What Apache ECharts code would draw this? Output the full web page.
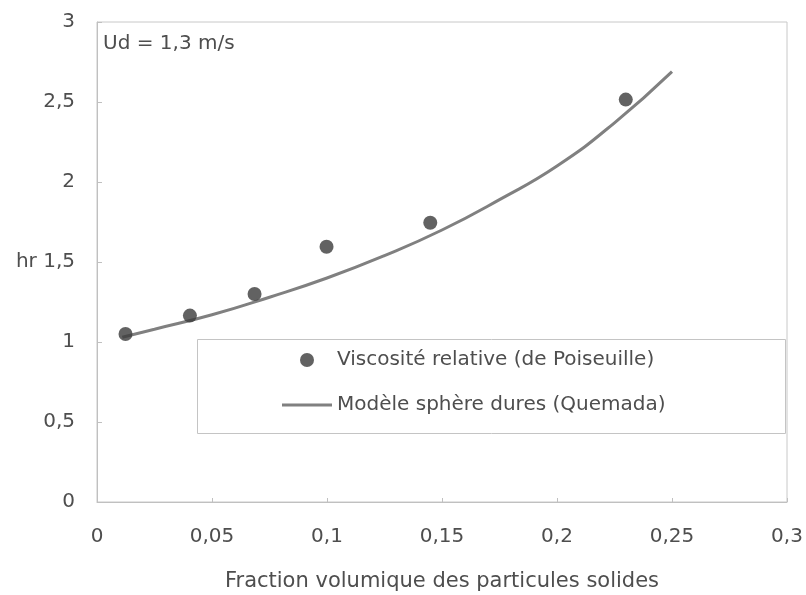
<!DOCTYPE html>
<html><head><meta charset="utf-8">
<script src="https://cdn.jsdelivr.net/npm/echarts@6/dist/echarts.min.js"></script>
<style>html,body{margin:0;padding:0;background:#fff}#c{width:806px;height:595px}</style>
</head><body><div id="c"></div>
<script>
// Measured relative viscosity (Poiseuille)
const measX = [0.0124, 0.0404, 0.0685, 0.0998, 0.1449, 0.2299];
const measY = [1.05, 1.165, 1.30, 1.595, 1.745, 2.515];
// Hard-sphere model (Quemada) curve
const modelX = [0.011, 0.025, 0.05, 0.075, 0.1, 0.125, 0.15, 0.175, 0.2, 0.225, 0.25];
const modelY = [1.03, 1.08, 1.17, 1.28, 1.40, 1.54, 1.70, 1.89, 2.10, 2.37, 2.69];
const seriesNames = ['Viscosité relative (de Poiseuille)', 'Modèle sphère dures (Quemada)'];
const xAxisTitle = 'Fraction volumique des particules solides';
const annotation = 'Ud = 1,3 m/s';

const chart = echarts.init(document.getElementById('c'), null, {renderer: 'canvas'});
const FONT = 'DejaVu Sans';
const TXT = '#4e4e4e';
const fmt = v => String(+(+v).toFixed(2)).replace('.', ',');

const option = {
  animation: false,
  backgroundColor: '#ffffff',
  textStyle: {fontFamily: FONT},
  grid: {left: 97, right: 19, top: 22, bottom: 93, show: true, borderColor: '#c8c8c8', borderWidth: 1, outerBoundsMode: 'none'},
  xAxis: {
    type: 'value', min: 0, max: 0.3, interval: 0.05,
    name: xAxisTitle, nameLocation: 'middle', nameGap: 69,
    nameTextStyle: {fontFamily: FONT, fontSize: 21, color: TXT},
    axisLine: {show: true, lineStyle: {color: '#c0c0c0', width: 1}},
    axisTick: {show: true, inside: true, length: 4, lineStyle: {color: '#c0c0c0'}},
    splitLine: {show: false},
    axisLabel: {fontFamily: FONT, fontSize: 20, color: TXT, margin: 25, formatter: v => fmt(v)}
  },
  yAxis: {
    type: 'value', min: 0, max: 3, interval: 0.5,
    axisLine: {show: true, lineStyle: {color: '#c0c0c0', width: 1}},
    axisTick: {show: true, inside: true, length: 5, lineStyle: {color: '#c0c0c0'}},
    splitLine: {show: false},
    axisLabel: {fontFamily: FONT, fontSize: 20, color: TXT, margin: 22,
      formatter: v => (Math.abs(v - 1.5) < 1e-9 ? 'hr 1,5' : fmt(v))}
  },
  legend: [
    {
      left: 300, top: 350, orient: 'vertical', padding: 0,
      itemWidth: 50, itemHeight: 14,
      textStyle: {fontFamily: FONT, fontSize: 20, color: TXT},
      data: [{name: seriesNames[0], icon: 'circle'}]
    },
    {
      left: 282, top: 395, orient: 'vertical', padding: 0,
      itemWidth: 50, itemHeight: 3,
      textStyle: {fontFamily: FONT, fontSize: 20, color: TXT},
      data: [{name: seriesNames[1], icon: 'rect'}]
    }
  ],
  graphic: [
    {type: 'rect', left: 195, top: 337, shape: {width: 588, height: 94},
     style: {fill: 'none', stroke: '#c4c4c4', lineWidth: 1}, z: 1, silent: true},
    {type: 'text', left: 103, top: 34, style: {text: annotation, font: '20px "DejaVu Sans"', fill: TXT}}
  ],
  series: [
    {
      name: seriesNames[0], type: 'scatter', symbol: 'circle', symbolSize: 14,
      itemStyle: {color: '#3b3b3b'},
      data: measX.map((x, i) => [x, measY[i]]), z: 3
    },
    {
      name: seriesNames[1], type: 'line', smooth: true, symbol: 'none', showSymbol: false,
      lineStyle: {color: '#808080', width: 3},
      itemStyle: {color: '#808080'},
      data: modelX.map((x, i) => [x, modelY[i]]), z: 2
    }
  ]
};
chart.setOption(option);
</script></body></html>
